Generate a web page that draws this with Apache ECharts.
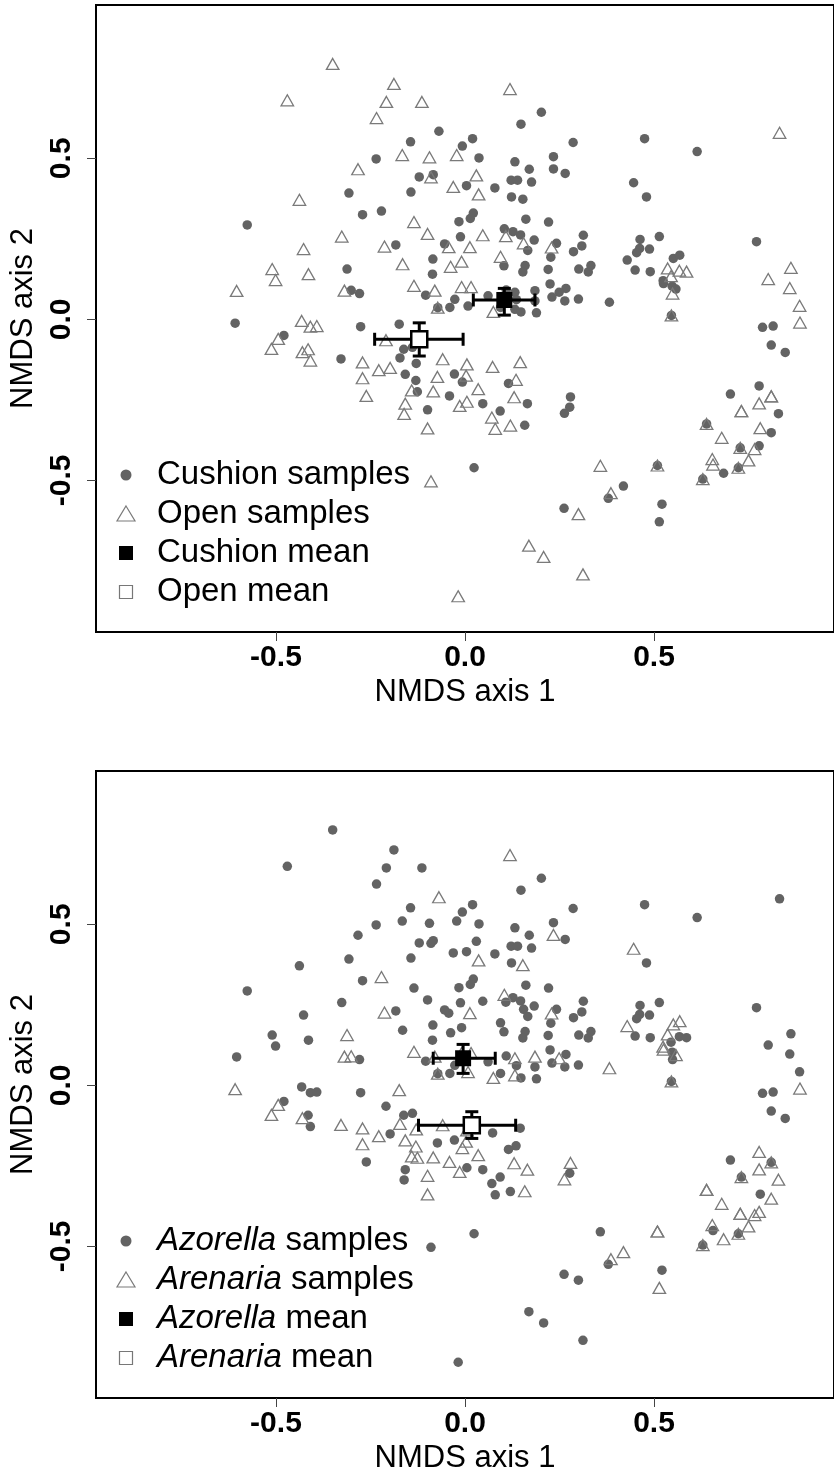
<!DOCTYPE html>
<html><head><meta charset="utf-8">
<script src="https://cdn.jsdelivr.net/npm/echarts@6/dist/echarts.min.js"></script>
<style>html,body{margin:0;padding:0;background:#fff;overflow:hidden}#c{width:834px;height:1480px}</style>
</head><body><div id="c"></div><script>
// ---- sample coordinates (NMDS axis 1, NMDS axis 2) ----
const ptX = [
  // group A
  -0.350,-0.188,-0.470,-0.208,-0.114,-0.234,-0.166,-0.094,-0.022,-0.283,
  -0.090,0.030,-0.031,0.036,-0.438,-0.135,-0.099,0.047,-0.326,-0.213,
  -0.043,0.013,-0.427,-0.165,-0.038,-0.009,-0.510,-0.414,-0.501,-0.604,
  -0.319,-0.135,-0.080,-0.009,0.016,
  // group B
  -0.072,-0.072,-0.040,-0.432,-0.409,-0.392,
  // group C
  -0.069,-0.144,0.020,-0.007,-0.235,0.037,-0.121,-0.084,0.004,-0.307,
  -0.143,-0.271,-0.221,0.022,0.014,-0.016,-0.576,-0.012,-0.183,-0.054,
  -0.085,-0.312,-0.086,-0.301,-0.279,-0.104,-0.027,
  // group D
  0.008,-0.608,-0.276,-0.174,
  // group E
  0.119,0.832,0.108,0.155,0.229,0.094,0.075,0.536,0.567,0.586,0.545,0.549,
  // group F
  0.546,0.546,0.862,0.802,0.859,0.885,0.886,
  // group G
  0.202,0.148,0.286,0.475,0.614,0.234,0.132,0.170,0.234,0.265,
  0.079,0.122,0.139,0.176,0.446,0.123,0.153,0.480,0.161,0.221,
  0.104,0.127,0.147,0.183,0.166,0.242,0.313,0.309,0.287,0.227,
  0.103,0.159,0.153,0.220,0.301,0.326,0.333,0.463,0.514,0.488,
  0.462,0.454,0.429,0.450,0.490,0.551,0.568,0.524,0.525,0.548,
  0.558,0.225,0.185,0.132,0.061,0.267,0.249,0.230,0.264,0.300,
  0.382,0.132,0.148,0.189,0.771,0.787,0.815,0.185,0.109,0.094,
  0.136,
  // group H
  -0.494,-0.512,-0.430,-0.415,-0.409,-0.209,-0.271,-0.228,-0.198,-0.271,
  -0.261,-0.059,0.005,0.003,0.035,-0.073,-0.084,-0.141,-0.158,-0.161,
  0.005,-0.014,-0.099,-0.090,-0.018,
  // group I
  -0.479,-0.328,-0.162,-0.172,-0.129,-0.158,-0.130,-0.126,-0.028,-0.007,
  -0.041,0.047,-0.099,0.024,-0.139,
  // group J
  0.073,0.146,0.135,0.130,0.071,0.080,0.120,0.358,0.386,0.300,0.169,0.208,0.312,
  // group K
  0.509,0.509,0.639,0.639,0.731,0.731,0.778,0.810,0.810,0.781,
  0.679,0.728,0.728,0.766,0.750,0.654,0.656,0.723,0.723,0.629,0.629,
  // group L
  0.810,0.847,0.115,0.093,0.165,0.158,0.279,0.277,0.263,0.419,
  0.379,0.262,0.521,0.514,0.702,0.778,0.829,0.810,0.778,0.684
];
const ptY = [
  // group A
  0.793,0.731,0.680,0.675,0.675,0.625,0.510,0.503,0.510,0.466,
  0.441,0.447,0.411,0.388,0.371,0.302,0.265,0.261,0.257,0.226,
  0.224,0.224,0.218,0.171,0.163,0.179,0.156,0.140,0.122,0.088,
  0.089,0.104,0.089,0.100,0.100,
  // group B
  0.036,0.036,0.037,-0.005,-0.023,-0.021,
  // group C
  0.584,0.551,0.561,0.538,0.498,0.501,0.442,0.449,0.415,0.392,
  0.395,0.325,0.336,0.330,0.313,0.303,0.293,0.256,0.231,0.234,
  0.187,0.156,0.140,0.090,0.080,0.075,0.062,
  // group D
  0.041,-0.012,-0.023,-0.015,
  // group E
  0.715,0.579,0.258,0.236,0.223,0.194,0.023,0.158,0.151,0.148,0.134,0.080,
  // group F
  0.012,0.012,0.160,0.125,0.097,0.042,-0.010,
  // group G
  0.643,0.606,0.549,0.561,0.521,0.505,0.489,0.466,0.467,0.453,
  0.408,0.432,0.432,0.426,0.424,0.380,0.373,0.380,0.311,0.302,
  0.281,0.272,0.262,0.246,0.214,0.236,0.261,0.228,0.210,0.193,
  0.166,0.167,0.147,0.155,0.156,0.147,0.167,0.248,0.257,0.218,
  0.220,0.207,0.184,0.153,0.148,0.189,0.199,0.120,0.111,0.103,
  0.094,0.110,0.089,0.084,0.073,0.096,0.084,0.069,0.057,0.063,
  0.053,0.031,0.023,0.020,0.241,-0.025,-0.021,0.057,0.091,0.037,
  0.061,
  // group H
  -0.061,-0.092,-0.102,-0.093,-0.128,-0.065,-0.134,-0.158,-0.151,-0.183,
  -0.238,-0.124,-0.140,-0.175,-0.217,-0.179,-0.224,-0.221,-0.262,-0.294,
  -0.256,-0.269,-0.339,-0.503,-0.860,
  // group I
  -0.050,-0.123,-0.093,-0.120,-0.137,-0.171,-0.190,-0.225,-0.170,-0.195,
  -0.238,-0.262,-0.281,-0.461,-0.087,
  // group J
  -0.148,-0.133,-0.188,-0.242,-0.305,-0.340,-0.330,-0.455,-0.540,-0.605,-0.703,-0.738,-0.792,
  // group K
  -0.454,-0.454,-0.325,-0.325,-0.285,-0.285,-0.261,-0.239,-0.239,-0.338,
  -0.368,-0.399,-0.399,-0.403,-0.438,-0.434,-0.451,-0.461,-0.461,-0.496,-0.496,
  // group L
  -0.080,-0.103,-0.199,-0.285,-0.262,-0.329,-0.241,-0.273,-0.292,-0.518,
  -0.556,-0.587,-0.574,-0.629,-0.232,-0.207,-0.293,-0.352,-0.393,-0.478
];
// microhabitat: C = cushion, O = open
const ptHabitat = [
  // A
  'O','O','O','O','O','O','O','O','O','O','O','O','O','O','O','O','O','O','O','O',
  'O','O','O','O','O','O','O','O','O','O','O','O','O','O','O',
  // B
  'C','O','C','O','O','O',
  // C
  'C','C','C','C','C','C','C','C','C','C','C','C','C','C','C','C','C','C','C','C',
  'C','C','C','C','C','C','C',
  // D
  'C','C','C','C',
  // E
  'O','O','O','O','O','O','O','O','O','O','O','O',
  // F
  'C','O','O','O','O','O','O',
  // G (71)
  'C','C','C','C','C','C','C','C','C','C','C','C','C','C','C','C','C','C','C','C',
  'C','C','C','C','C','C','C','C','C','C','C','C','C','C','C','C','C','C','C','C',
  'C','C','C','C','C','C','C','C','C','C','C','C','C','C','C','C','C','C','C','C',
  'C','C','C','C','C','C','C','C','C','C','C',
  // H (25)
  'O','O','O','O','O','O','O','O','O','O','O','O','O','O','O','O','O','O','O','O',
  'O','O','O','O','O',
  // I (15)
  'C','C','C','C','C','C','C','C','C','C','C','C','C','C','C',
  // J (13)
  'O','O','O','O','O','O','O','O','O','O','O','O','O',
  // K (21)
  'C','O','C','O','O','O','O','O','O','O','O','C','O','O','O','O','O','C','O','C','O',
  // L (20)
  'C','C','C','C','C','C','C','C','C','C','C','C','C','C','C','C','C','C','C','C'
];
// host species: A = Azorella, R = Arenaria
const ptSpecies = [
  // A
  'A','A','A','A','A','A','A','A','A','A','A','A','A','R','A','A','A','A','A','R',
  'A','R','A','A','A','A','A','A','A','A','R','R','R','R','R',
  // B
  'A','R','A','A','A','A',
  // C
  'R','A','A','A','A','A','A','A','A','A','A','A','R','A','A','A','A','A','A','A',
  'A','R','A','R','A','A','A',
  // D
  'R','R','A','R',
  // E
  'R','A','A','A','R','A','R','R','A','A','A','A',
  // F
  'A','R','A','A','A','A','R',
  // G
  'A','A','A','A','A','A','A','A','R','A',
  'A','A','A','A','R','A','R','A','A','A',
  'R','A','A','A','A','A','A','A','A','A',
  'A','A','A','A','A','A','A','A','A','A',
  'A','A','R','A','A','R','R','R','R','A',
  'R','A','R','R','A','A','R','A','A','A',
  'R','R','A','A','A','A','A','A','A','A',
  'A',
  // H
  'R','R','R','A','A','A','R','R','A','R','A','R','R','R','R','A','R','R','A','A',
  'A','R','R','A','A',
  // I
  'A','R','A','R','R','R','R','R','A','R','R','A','R','A','A',
  // J
  'A','A','A','R','A','A','A','A','R','A','A','A','A',
  // K
  'R','R','R','R','A','R','R','A','R','A','R','R','R','R','R','R','A','A','R','A','R',
  // L
  'A','A','A','A','R','R','R','A','R','R','A','A','A','R','A','R','R','R','R','R'
];

// ---- group means with error bars ----
const meanNamesTop = ['Cushion mean', 'Open mean'];
const meanXTop   = [0.104, -0.121];
const meanYTop   = [0.060, -0.062];
const meanXLoTop = [0.022, -0.239];
const meanXHiTop = [0.185, -0.005];
const meanYLoTop = [0.013, -0.114];
const meanYHiTop = [0.096, -0.011];

const meanNamesBot = ['Azorella mean', 'Arenaria mean'];
const meanXBot   = [-0.005, 0.018];
const meanYBot   = [0.084, -0.124];
const meanXLoBot = [-0.084, -0.123];
const meanXHiBot = [0.080, 0.134];
const meanYLoBot = [0.037, -0.165];
const meanYHiBot = [0.127, -0.082];

const tickValues = [-0.5, 0, 0.5];
const xRange = [-0.976, 0.976];
const yRange = [-0.971, 0.976];
const xTitle = 'NMDS axis 1';
const yTitle = 'NMDS axis 2';

if (ptX.length !== ptY.length || ptX.length !== ptHabitat.length || ptX.length !== ptSpecies.length) {
  throw new Error('length mismatch ' + ptX.length + ' ' + ptY.length + ' ' + ptHabitat.length + ' ' + ptSpecies.length);
}

const FONT = "'Liberation Sans', Arial, Helvetica, sans-serif";
const CIRCLE_COLOR = '#636363';
const TRI_COLOR = '#7a7a7a';

function pts(filterFn) {
  const out = [];
  for (let i = 0; i < ptX.length; i++) if (filterFn(i)) out.push([ptX[i], ptY[i]]);
  return out;
}

function errRender(params, api) {
  const c = api.coord([api.value(0), api.value(1)]);
  const xl = api.coord([api.value(2), api.value(1)]);
  const xh = api.coord([api.value(3), api.value(1)]);
  const yl = api.coord([api.value(0), api.value(4)]);
  const yh = api.coord([api.value(0), api.value(5)]);
  const cap = 6.5;
  const st = { stroke: '#000', lineWidth: 3 };
  const L = (x1, y1, x2, y2) => ({ type: 'line', shape: { x1, y1, x2, y2 }, style: st });
  return { type: 'group', children: [
    L(xl[0], c[1], xh[0], c[1]),
    L(xl[0], c[1] - cap, xl[0], c[1] + cap),
    L(xh[0], c[1] - cap, xh[0], c[1] + cap),
    L(c[0], yl[1], c[0], yh[1]),
    L(c[0] - cap, yl[1], c[0] + cap, yl[1]),
    L(c[0] - cap, yh[1], c[0] + cap, yh[1])
  ]};
}

const gridTops = [5, 771];
const grids = gridTops.map(t => ({
  left: 96, top: t, width: 745, height: 627,
  show: true, borderColor: '#000', borderWidth: 2, backgroundColor: 'transparent'
}));

const xAxes = gridTops.map((t, i) => ({
  type: 'value', gridIndex: i, min: xRange[0], max: xRange[1],
  splitLine: { show: false }, axisLine: { show: false, onZero: false },
  axisTick: { show: true, inside: false, length: 9, customValues: tickValues, lineStyle: { color: '#444', width: 1 } },
  axisLabel: { show: true, customValues: tickValues, formatter: v => v.toFixed(1),
    fontSize: 30, fontWeight: 'bold', color: '#000', fontFamily: FONT, margin: 11 },
  name: xTitle, nameLocation: 'middle', nameGap: 45,
  nameTextStyle: { fontSize: 31, color: '#000', fontFamily: FONT }
}));
const yAxes = gridTops.map((t, i) => ({
  type: 'value', gridIndex: i, min: yRange[0], max: yRange[1],
  splitLine: { show: false }, axisLine: { show: false, onZero: false },
  axisTick: { show: true, inside: false, length: 9, customValues: tickValues, lineStyle: { color: '#444', width: 1 } },
  axisLabel: { show: true, customValues: tickValues, formatter: v => v.toFixed(1), rotate: 90,
    fontSize: 30, fontWeight: 'bold', color: '#000', fontFamily: FONT, margin: 19 },
  name: yTitle, nameLocation: 'middle', nameGap: 47, nameRotate: 90,
  nameTextStyle: { fontSize: 31, color: '#000', fontFamily: FONT }
}));

function panelSeries(i, circleData, triData, meanX, meanY, xlo, xhi, ylo, yhi, names) {
  const meanData = meanX.map((x, k) => [x, meanY[k], xlo[k], xhi[k], ylo[k], yhi[k]]);
  return [
    { type: 'scatter', xAxisIndex: i, yAxisIndex: i, data: circleData, symbol: 'circle', symbolSize: 9.5,
      itemStyle: { color: CIRCLE_COLOR, opacity: 1 }, z: 2, silent: true },
    { type: 'scatter', xAxisIndex: i, yAxisIndex: i, data: triData, symbol: 'triangle', symbolSize: [12.5, 11],
      itemStyle: { color: 'rgba(255,255,255,0)', borderColor: TRI_COLOR, borderWidth: 1.3, opacity: 1 }, z: 3, silent: true },
    { type: 'custom', xAxisIndex: i, yAxisIndex: i, data: meanData, renderItem: errRender,
      encode: { x: 0, y: 1 }, z: 4, silent: true },
    { type: 'scatter', name: names[0], xAxisIndex: i, yAxisIndex: i, data: [[meanX[0], meanY[0]]], symbol: 'rect', symbolSize: 16,
      itemStyle: { color: '#000', opacity: 1 }, z: 5, silent: true },
    { type: 'scatter', name: names[1], xAxisIndex: i, yAxisIndex: i, data: [[meanX[1], meanY[1]]], symbol: 'rect', symbolSize: 16,
      itemStyle: { color: '#fff', borderColor: '#000', borderWidth: 2.5, opacity: 1 }, z: 5, silent: true }
  ];
}

const series = [].concat(
  panelSeries(0, pts(i => ptHabitat[i] === 'C'), pts(i => ptHabitat[i] === 'O'),
    meanXTop, meanYTop, meanXLoTop, meanXHiTop, meanYLoTop, meanYHiTop, meanNamesTop),
  panelSeries(1, pts(i => ptSpecies[i] === 'A'), pts(i => ptSpecies[i] === 'R'),
    meanXBot, meanYBot, meanXLoBot, meanXHiBot, meanYLoBot, meanYHiBot, meanNamesBot)
);

// ---- legends (drawn as graphic elements) ----
const legendRows = [475, 514, 553, 592];
const legendTextTop = ['Cushion samples', 'Open samples', 'Cushion mean', 'Open mean'];
const legendTextBot = ['{i|Azorella} samples', '{i|Arenaria} samples', '{i|Azorella} mean', '{i|Arenaria} mean'];
function legendGraphics(offset, texts) {
  const sx = 126, tx = 157;
  const r = legendRows.map(y => y + offset);
  const g = [
    { type: 'circle', shape: { cx: sx, cy: r[0], r: 5.5 }, style: { fill: CIRCLE_COLOR } },
    { type: 'polygon', shape: { points: [[sx, r[1] - 8], [sx + 9, r[1] + 7], [sx - 9, r[1] + 7]] },
      style: { fill: 'none', stroke: TRI_COLOR, lineWidth: 1.2 } },
    { type: 'rect', shape: { x: sx - 7, y: r[2] - 7, width: 14, height: 14 }, style: { fill: '#000' } },
    { type: 'rect', shape: { x: sx - 6.5, y: r[3] - 6.5, width: 13, height: 13 }, style: { fill: '#fff', stroke: '#777', lineWidth: 1.2 } }
  ];
  texts.forEach((t, k) => g.push({
    type: 'text', x: tx, y: r[k],
    style: { text: t, fontSize: 33, fontFamily: FONT, fill: '#000', verticalAlign: 'middle', align: 'left',
      rich: { i: { fontStyle: 'italic', fontSize: 33, fontFamily: FONT, fill: '#000' } } }
  }));
  return g;
}

const chart = echarts.init(document.getElementById('c'), null, { renderer: 'canvas' });
chart.setOption({
  animation: false,
  backgroundColor: '#fff',
  grid: grids,
  xAxis: xAxes,
  yAxis: yAxes,
  series: series,
  graphic: [].concat(legendGraphics(0, legendTextTop), legendGraphics(766, legendTextBot))
});
</script></body></html>
